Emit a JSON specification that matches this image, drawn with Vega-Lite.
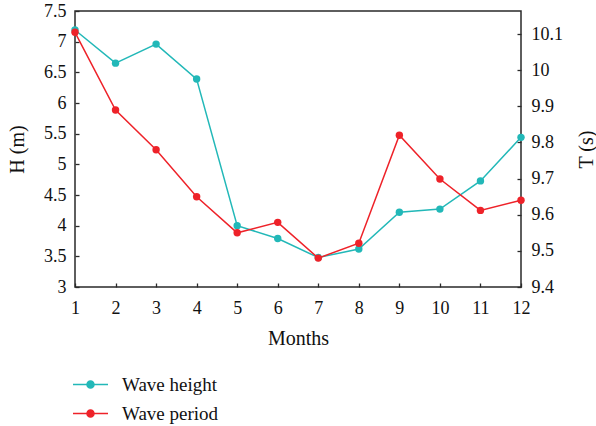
{
  "$schema": "https://vega.github.io/schema/vega-lite/v6.json",
  "width": 446,
  "height": 276,
  "autosize": {"type": "none"},
  "padding": {"left": 75, "top": 11, "right": 75, "bottom": 139},
  "background": "white",
  "config": {
    "font": "Liberation Serif",
    "view": {"stroke": "#2a2a2a", "strokeWidth": 1.5},
    "axis": {
      "domain": false,
      "grid": false,
      "ticks": true,
      "tickColor": "#2a2a2a",
      "tickWidth": 1.3,
      "labelFont": "Liberation Serif",
      "labelFontSize": 18,
      "labelColor": "#111111",
      "titleFont": "Liberation Serif",
      "titleFontSize": 20,
      "titleFontWeight": "normal",
      "titleColor": "#111111",
      "format": "~g",
      "labelFlush": false
    },
    "legend": {
      "labelFont": "Liberation Serif",
      "labelFontSize": 19,
      "labelColor": "#111111"
    }
  },
  "data": {
    "values": [
      {"month": 1, "H": 7.19, "T": 10.105},
      {"month": 2, "H": 6.65, "T": 9.89},
      {"month": 3, "H": 6.96, "T": 9.78},
      {"month": 4, "H": 6.39, "T": 9.65},
      {"month": 5, "H": 4.0, "T": 9.55},
      {"month": 6, "H": 3.79, "T": 9.579},
      {"month": 7, "H": 3.48, "T": 9.48},
      {"month": 8, "H": 3.62, "T": 9.521},
      {"month": 9, "H": 4.22, "T": 9.82},
      {"month": 10, "H": 4.27, "T": 9.699},
      {"month": 11, "H": 4.73, "T": 9.612},
      {"month": 12, "H": 5.44, "T": 9.64}
    ]
  },
  "encoding": {
    "x": {
      "field": "month",
      "type": "quantitative",
      "scale": {"domain": [1, 12], "nice": false},
      "axis": {
        "title": "Months",
        "values": [1, 2, 3, 4, 5, 6, 7, 8, 9, 10, 11, 12],
        "tickSize": -4,
        "labelPadding": 16,
        "titlePadding": 11
      }
    }
  },
  "layer": [
    {
      "mark": {
        "type": "line",
        "strokeWidth": 1.5,
        "point": {"filled": true, "size": 55}
      },
      "encoding": {
        "y": {
          "field": "H",
          "type": "quantitative",
          "scale": {"domain": [3, 7.5], "nice": false, "zero": false},
          "axis": {
            "orient": "left",
            "title": "H (m)",
            "values": [3, 3.5, 4, 4.5, 5, 5.5, 6, 6.5, 7, 7.5],
            "tickSize": -4,
            "labelPadding": 13,
            "titlePadding": 16
          }
        },
        "color": {
          "datum": "Wave height",
          "type": "nominal",
          "scale": {
            "domain": ["Wave height", "Wave period"],
            "range": ["#22b8b8", "#ee2229"]
          },
          "legend": {
            "title": null,
            "orient": "none",
            "legendX": -3,
            "legendY": 355,
            "direction": "vertical",
            "rowPadding": -1,
            "symbolType": "M-1,0H1M-0.2,0A0.2,0.2 0 1,1 0.2,0A0.2,0.2 0 1,1 -0.2,0Z",
            "symbolSize": 1225,
            "symbolStrokeWidth": 1.5,
            "labelOffset": 13,
            "encode": {
              "symbols": {
                "update": {
                  "fill": {"scale": "color", "field": "value"},
                  "stroke": {"scale": "color", "field": "value"}
                }
              }
            }
          }
        }
      }
    },
    {
      "mark": {
        "type": "line",
        "strokeWidth": 1.5,
        "point": {"filled": true, "size": 55}
      },
      "encoding": {
        "y": {
          "field": "T",
          "type": "quantitative",
          "scale": {"domain": [9.4, 10.164], "nice": false, "zero": false},
          "axis": {
            "orient": "right",
            "title": "T (s)",
            "titleAngle": 270,
            "values": [9.4, 9.5, 9.6, 9.7, 9.8, 9.9, 10, 10.1],
            "tickSize": -4,
            "labelPadding": 14,
            "titlePadding": 34
          }
        },
        "color": {"datum": "Wave period", "type": "nominal"}
      }
    }
  ],
  "resolve": {"scale": {"y": "independent"}}
}
